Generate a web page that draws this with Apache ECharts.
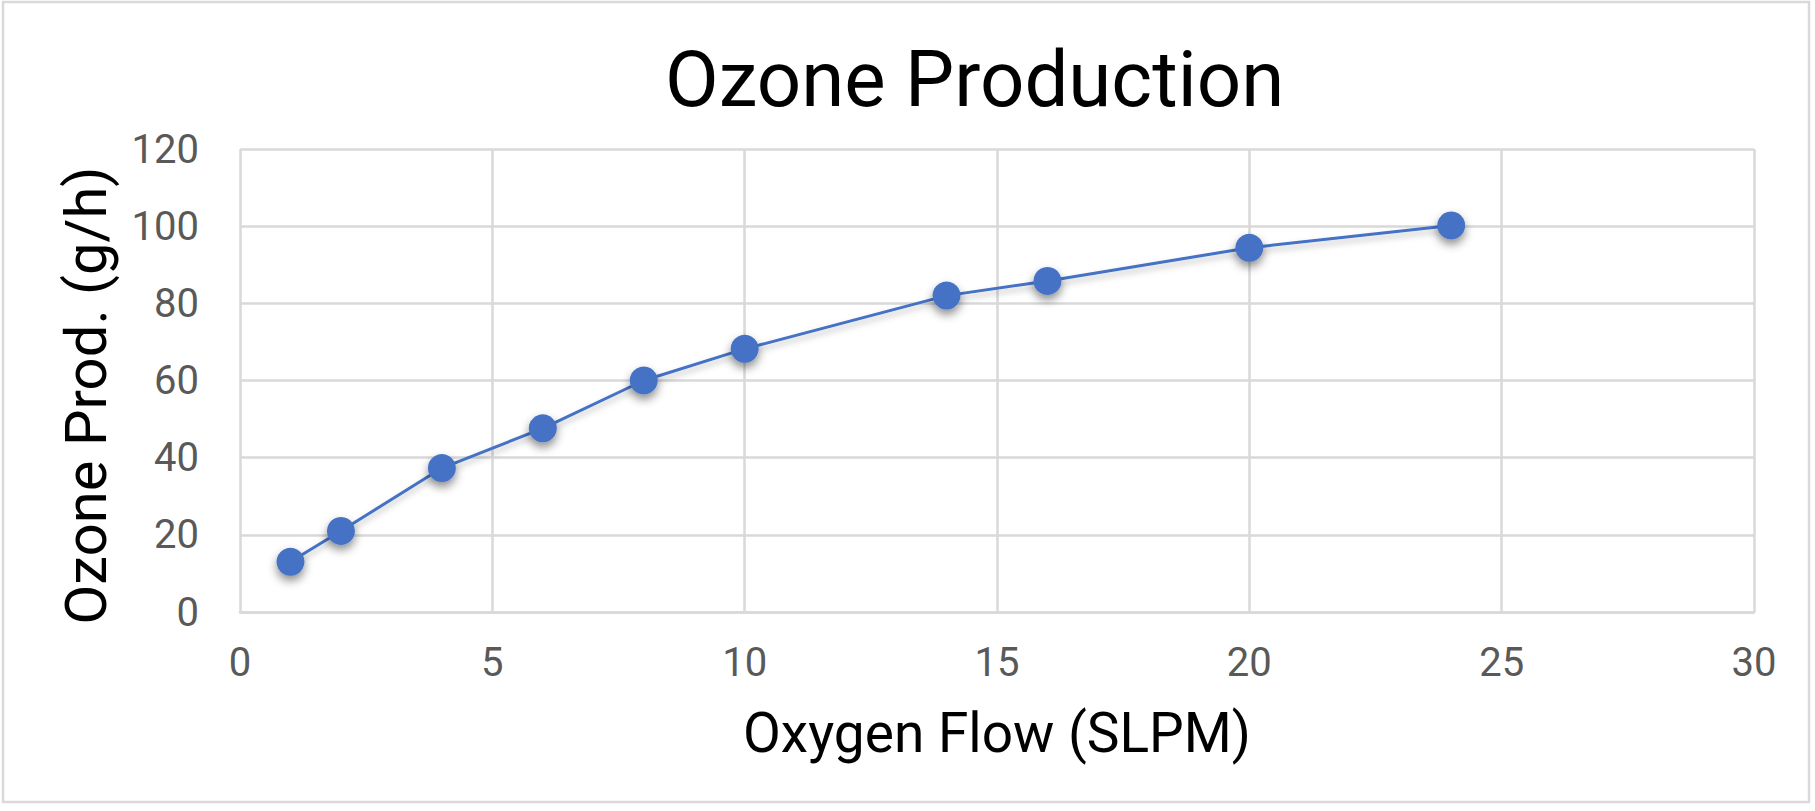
<!DOCTYPE html>
<html>
<head>
<meta charset="utf-8">
<title>Ozone Production</title>
<script src="https://cdn.jsdelivr.net/npm/echarts@6/dist/echarts.min.js"></script>
<style>
  html, body { margin: 0; padding: 0; background: #fff; }
  #chart { width: 1815px; height: 811px; }
</style>
</head>
<body>
<div id="chart"></div>
<script>
// oxygen flow (SLPM) and measured ozone output (g/h)
const flowValues = [1, 2, 4, 6, 8, 10, 14, 16, 20, 24]
const ozoneValues = [13, 21, 37.3, 47.6, 60, 68.2, 82, 85.8, 94.4, 100.2]

// axis ticks
const xTicks = [0, 5, 10, 15, 20, 25, 30]
const yTicks = [0, 20, 40, 60, 80, 100, 120]

const blue = '#4472C4'
const gridGray = '#d9d9d9'
const labelGray = '#595959'
const font = 'Roboto, "Noto Sans", sans-serif'

let points = flowValues.map((x, i) => [x, ozoneValues[i]])

const chart = echarts.init(document.getElementById('chart'), null, { renderer: 'svg' })

chart.setOption({
  backgroundColor: '#fff',
  animation: false,
  title: {
    text: 'Ozone Production',
    left: 665,
    top: 40,
    padding: 0,
    textStyle: { fontFamily: font, fontSize: 78, fontWeight: 'normal', color: '#000' }
  },
  grid: { left: 240, right: 61, top: 149, bottom: 199, containLabel: false },
  xAxis: {
    type: 'value',
    min: xTicks[0],
    max: xTicks[xTicks.length - 1],
    interval: xTicks[1] - xTicks[0],
    name: 'Oxygen Flow (SLPM)',
    nameLocation: 'middle',
    nameGap: 93,
    nameTextStyle: { fontFamily: font, fontSize: 55, color: '#000' },
    axisLine: { show: true, lineStyle: { color: gridGray, width: 2.5 } },
    axisTick: { show: false },
    axisLabel: { fontFamily: font, fontSize: 40, color: labelGray, margin: 30 },
    splitLine: { show: true, lineStyle: { color: gridGray, width: 2.5 } }
  },
  yAxis: {
    type: 'value',
    min: yTicks[0],
    max: yTicks[yTicks.length - 1],
    interval: yTicks[1] - yTicks[0],
    name: 'Ozone Prod. (g/h)',
    nameLocation: 'middle',
    nameGap: 125,
    nameTextStyle: { fontFamily: font, fontSize: 58, color: '#000', padding: [0, 30, 0, 0] },
    axisLine: { show: false },
    axisTick: { show: false },
    axisLabel: { fontFamily: font, fontSize: 40, color: labelGray, margin: 41 },
    splitLine: { show: true, lineStyle: { color: gridGray, width: 2.5 } }
  },
  series: [{
    type: 'line',
    data: points,
    symbol: 'circle',
    symbolSize: 28,
    lineStyle: {
      color: blue, width: 3,
      shadowColor: 'rgba(0,0,0,0.25)', shadowBlur: 6, shadowOffsetY: 4
    },
    itemStyle: {
      color: blue, borderColor: blue, borderWidth: 0,
      shadowColor: 'rgba(0,0,0,0.45)', shadowBlur: 10, shadowOffsetY: 5
    },
    emphasis: { disabled: true }
  }],
  graphic: [{
    type: 'rect',
    silent: true,
    shape: { x: 3, y: 2, width: 1806, height: 800 },
    style: { fill: 'none', stroke: gridGray, lineWidth: 2.5 }
  }]
})
</script>
</body>
</html>
